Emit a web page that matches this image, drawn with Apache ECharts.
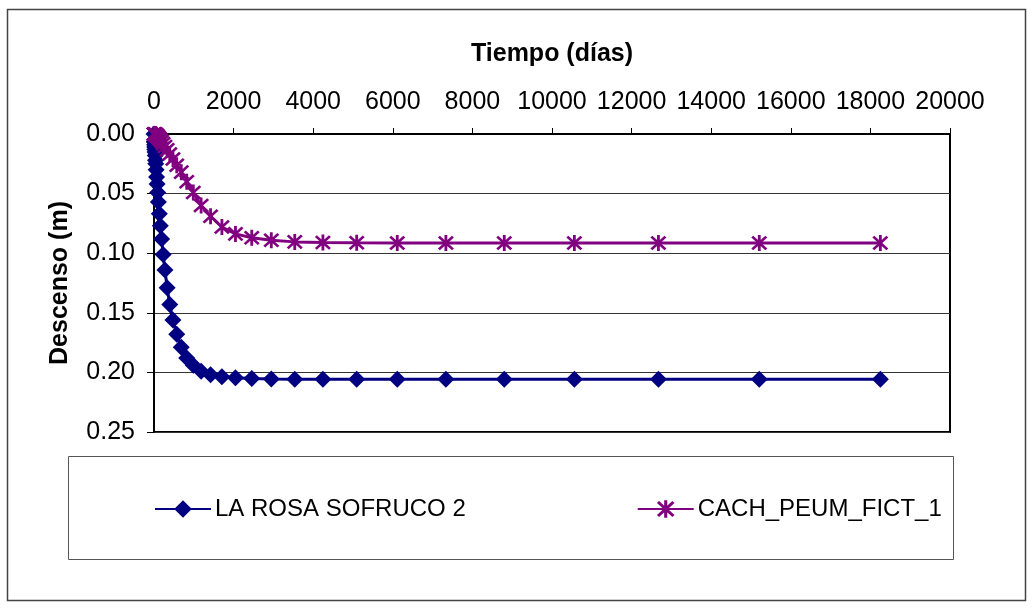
<!DOCTYPE html>
<html>
<head>
<meta charset="utf-8">
<script src="https://cdn.jsdelivr.net/npm/echarts@6/dist/echarts.min.js"></script>
<style>
  html, body { margin: 0; padding: 0; background: #ffffff; }
  #chart { width: 1034px; height: 609px; }
</style>
</head>
<body>
<div id="chart"></div>
<script>
// ---- Data ----
const days = [0, 10, 12, 15, 18, 21, 26, 31, 37, 44,
  53, 64, 77, 92, 110, 133, 159, 191, 229, 275,
  330, 396, 476, 571, 685, 822, 987, 1184, 1421, 1706,
  2047, 2456, 2947, 3537, 4244, 5093, 6112, 7334, 8801, 10562,
  12674, 15208, 18250];

const laRosa = [0, 0.006, 0.007, 0.009, 0.011, 0.013, 0.015, 0.018, 0.022, 0.025,
  0.030, 0.036, 0.042, 0.049, 0.057, 0.067, 0.077, 0.088, 0.101, 0.114,
  0.129, 0.143, 0.156, 0.168, 0.179, 0.188, 0.194, 0.199, 0.202, 0.2036,
  0.2045, 0.2052, 0.2055, 0.2057, 0.2058, 0.2058, 0.2058, 0.2058, 0.2058, 0.2058,
  0.2058, 0.2058, 0.2058];

const cachPeum = [0, 0, 0, 0, 0, 0, 0.0001, 0.0002, 0.0003, 0.0005,
  0.0007, 0.001, 0.0014, 0.002, 0.0027, 0.0036, 0.0048, 0.0063, 0.0082, 0.0105,
  0.0133, 0.0168, 0.021, 0.0262, 0.032, 0.0400, 0.049, 0.060, 0.069, 0.078,
  0.0838, 0.0870, 0.0892, 0.0905, 0.0911, 0.0913, 0.0914, 0.0915, 0.0915, 0.0915,
  0.0915, 0.0915, 0.0915];

const seriesNames = ['LA ROSA SOFRUCO 2', 'CACH_PEUM_FICT_1'];
const xTitle = 'Tiempo (días)';
const yTitle = 'Descenso (m)';
const xMin = 0, xMax = 20000, xStep = 2000;
const yMin = 0, yMax = 0.25, yStep = 0.05;

// ---- Styling ----
const FONT = "'Liberation Sans', Arial, sans-serif";
const BLUE = '#000080';
const PURPLE = '#800080';
const ASTERISK = 'path://M4.2,0L5.8,0L5.8,10L4.2,10Z' +
  'M0.45,1.55L1.55,0.45L9.55,8.45L8.45,9.55Z' +
  'M8.45,0.45L9.55,1.55L1.55,9.55L0.45,8.45Z';

function pairs(xs, ys) { return xs.map((x, i) => [x, ys[i]]); }

const chart = echarts.init(document.getElementById('chart'), null, { renderer: 'canvas' });

const option = {
  backgroundColor: '#ffffff',
  animation: false,
  textStyle: { fontFamily: FONT, color: '#000' },
  grid: {
    left: 154, top: 134, width: 796, height: 298,
    show: true, borderColor: '#000', borderWidth: 2, backgroundColor: '#fff',
    containLabel: false
  },
  xAxis: {
    type: 'value', position: 'top',
    min: xMin, max: xMax, interval: xStep,
    name: xTitle, nameLocation: 'middle', nameGap: 67,
    nameTextStyle: { fontFamily: FONT, fontSize: 25, fontWeight: 'bold', color: '#000' },
    axisLine: { show: true, lineStyle: { color: '#000', width: 2 } },
    axisTick: { show: true, inside: false, length: 6, lineStyle: { color: '#000', width: 1 } },
    axisLabel: { fontFamily: FONT, fontSize: 25, color: '#000', margin: 19,
      formatter: v => String(v) },
    splitLine: { show: false }
  },
  yAxis: {
    type: 'value', inverse: true,
    min: yMin, max: yMax, interval: yStep,
    name: yTitle, nameLocation: 'middle', nameGap: 81, nameRotate: 90,
    nameTextStyle: { fontFamily: FONT, fontSize: 25, fontWeight: 'bold', color: '#000' },
    axisLine: { show: true, lineStyle: { color: '#000', width: 2 } },
    axisTick: { show: true, inside: false, length: 7, lineStyle: { color: '#000', width: 1 } },
    axisLabel: { fontFamily: FONT, fontSize: 25, color: '#000', margin: 19,
      formatter: v => v.toFixed(2) },
    splitLine: { show: true, lineStyle: { color: '#333', width: 1 } }
  },
  legend: {
    left: 154, top: 497, padding: 0,
    itemWidth: 56, itemHeight: 22, itemGap: 171,
    textStyle: { fontFamily: FONT, fontSize: 24, color: '#000', padding: [0, 0, 0, -1] },
    data: seriesNames
  },
  graphic: [
    { type: 'rect', shape: { x: 7.5, y: 9.5, width: 1018, height: 591 },
      style: { fill: null, stroke: '#444', lineWidth: 1.5 }, z: -10, silent: true },
    { type: 'rect', shape: { x: 68.5, y: 456.5, width: 885, height: 103 },
      style: { fill: '#fff', stroke: '#555', lineWidth: 1 }, z: -5, silent: true }
  ],
  series: [
    {
      name: seriesNames[0], type: 'line',
      data: pairs(days, laRosa),
      symbol: 'diamond', symbolSize: 17, showAllSymbol: true,
      clip: false,
      lineStyle: { color: BLUE, width: 3 },
      itemStyle: { color: BLUE, borderWidth: 0 },
      z: 3
    },
    {
      name: seriesNames[1], type: 'line',
      data: pairs(days, cachPeum),
      symbol: ASTERISK, symbolSize: 16, showAllSymbol: true,
      clip: false,
      lineStyle: { color: PURPLE, width: 3 },
      itemStyle: { color: PURPLE, borderWidth: 0 },
      z: 4
    }
  ]
};

chart.setOption(option);
</script>
</body>
</html>
